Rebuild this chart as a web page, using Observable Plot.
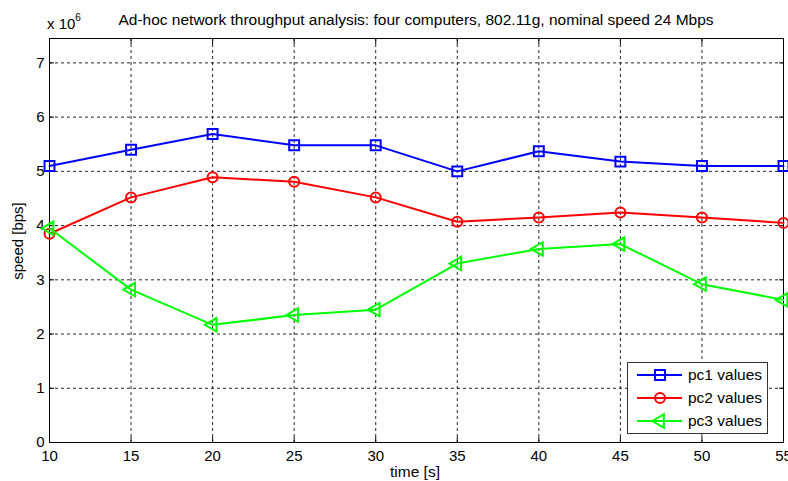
<!DOCTYPE html>
<html>
<head>
<meta charset="utf-8">
<script src="https://cdn.jsdelivr.net/npm/d3@7"></script>
<script src="https://cdn.jsdelivr.net/npm/@observablehq/plot@0.6"></script>
<style>
  html, body { margin: 0; padding: 0; background: #fff; }
  #chart { position: relative; width: 788px; height: 481px; }
</style>
</head>
<body>
<div id="chart"></div>
<script>
// ---- data (speed in units of 10^6 bps) ----
const times = [10, 15, 20, 25, 30, 35, 40, 45, 50, 55];
const pc1 = [5.10, 5.40, 5.69, 5.48, 5.48, 5.00, 5.37, 5.18, 5.10, 5.10];
const pc2 = [3.85, 4.52, 4.89, 4.81, 4.52, 4.07, 4.15, 4.24, 4.15, 4.05];
const pc3 = [3.95, 2.82, 2.17, 2.35, 2.45, 3.30, 3.57, 3.66, 2.92, 2.63];
const seriesNames = ["pc1 values", "pc2 values", "pc3 values"];
const seriesColors = ["#0000ff", "#ff0000", "#00ff00"];
const seriesSymbols = ["square", "circle", "triangle"];
const xTicks = [10, 15, 20, 25, 30, 35, 40, 45, 50, 55];
const yTicks = [0, 1, 2, 3, 4, 5, 6, 7];
const titleText = "Ad-hoc network throughput analysis: four computers, 802.11g, nominal speed 24 Mbps";
const xLabel = "time [s]";
const yLabel = "speed [bps]";

const allSeries = [pc1, pc2, pc3];
const rows = [];
allSeries.forEach((vals, s) => vals.forEach((v, i) => rows.push({series: seriesNames[s], t: times[i], v})));

const W = 788, H = 481;
const FS = 15;
const font = "'Liberation Sans', Arial, Helvetica, sans-serif";
const gridStyle = {stroke: "#000", strokeOpacity: 0.85, strokeDasharray: "3,3", strokeWidth: 1};
const tickStyle = {tickFormat: () => "", tickSize: -5, stroke: "#000"};
const radii = [5.6, 5, 5];

const marks = [
  Plot.gridX(xTicks, gridStyle),
  Plot.gridY(yTicks, gridStyle),
  Plot.axisX(xTicks, {anchor: "bottom", tickSize: 0, tickPadding: 8, label: null, fontSize: FS, tickFormat: d3.format("d")}),
  Plot.axisY(yTicks, {anchor: "left", tickSize: 0, tickPadding: 5, label: null, fontSize: FS, tickFormat: d3.format("d")}),
  Plot.axisX(xTicks, {anchor: "bottom", label: null, ...tickStyle}),
  Plot.axisX(xTicks, {anchor: "top", label: null, ...tickStyle}),
  Plot.axisY(yTicks, {anchor: "left", label: null, ...tickStyle}),
  Plot.axisY(yTicks, {anchor: "right", label: null, ...tickStyle}),
  Plot.frame({stroke: "#000", strokeWidth: 1})
];
seriesNames.forEach((name, s) => {
  const data = rows.filter(d => d.series === name);
  marks.push(Plot.line(data, {x: "t", y: "v", stroke: seriesColors[s], strokeWidth: 2}));
  marks.push(Plot.dot(data, {
    x: "t", y: "v", symbol: () => seriesSymbols[s], stroke: seriesColors[s], fill: "none",
    strokeWidth: 2, r: radii[s], rotate: s === 2 ? -90 : 0
  }));
});

const chart = Plot.plot({
  width: W, height: H,
  marginLeft: 49, marginRight: 5, marginTop: 38, marginBottom: 39,
  x: {domain: [10, 55], axis: null},
  y: {domain: [0, 7.45], axis: null},
  style: {fontFamily: font, fontSize: FS + "px", color: "#000", background: "#fff", overflow: "visible"},
  marks
});
document.getElementById("chart").appendChild(chart);

const svg = d3.select(chart);
const addText = (x, y, txt, size, anchor) => svg.append("text").attr("x", x).attr("y", y)
  .attr("text-anchor", anchor).attr("font-family", font).attr("font-size", size).attr("fill", "#000").text(txt);
// title
addText(416, 25, titleText, 15.5, "middle");
// exponent label
const ex = svg.append("text").attr("x", 47).attr("y", 29).attr("text-anchor", "start")
  .attr("font-family", font).attr("font-size", FS).attr("fill", "#000");
ex.append("tspan").text("x 10");
ex.append("tspan").attr("dy", -8).attr("font-size", 10).text("6");
// axis labels
addText(415, 477, xLabel, 15.5, "middle");
svg.append("text").attr("transform", "translate(23,241) rotate(-90)").attr("text-anchor", "middle")
  .attr("font-family", font).attr("font-size", 15).attr("fill", "#000").text(yLabel);

// legend
const lg = svg.append("g");
lg.append("rect").attr("x", 627.5).attr("y", 362.5).attr("width", 140).attr("height", 71)
  .attr("fill", "#fff").attr("stroke", "#333").attr("stroke-width", 1);
const symMap = {square: d3.symbolSquare, circle: d3.symbolCircle, triangle: d3.symbolTriangle};
seriesNames.forEach((name, s) => {
  const cy = 375 + s * 23;
  lg.append("line").attr("x1", 637).attr("x2", 682).attr("y1", cy).attr("y2", cy)
    .attr("stroke", seriesColors[s]).attr("stroke-width", 2);
  const r = radii[s];
  lg.append("path").attr("d", d3.symbol(symMap[seriesSymbols[s]], Math.PI * r * r)())
    .attr("transform", `translate(660,${cy}) rotate(${s === 2 ? -90 : 0})`)
    .attr("fill", "none").attr("stroke", seriesColors[s]).attr("stroke-width", 2);
  lg.append("text").attr("x", 688).attr("y", cy).attr("dy", "0.35em").attr("text-anchor", "start")
    .attr("font-family", font).attr("font-size", 15.5).attr("fill", "#000").text(name);
});
</script>
</body>
</html>
